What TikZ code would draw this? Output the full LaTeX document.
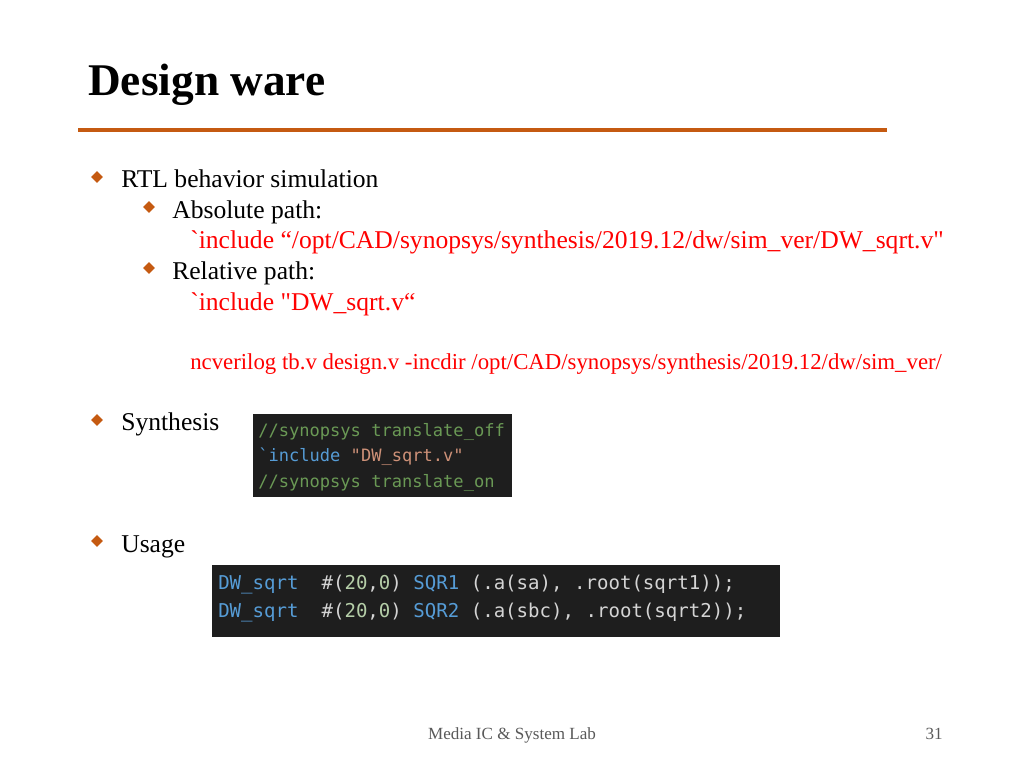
\documentclass[tikz,border=0pt]{standalone}
\usepackage{fontspec}
\setmainfont{Liberation Serif}[Ligatures=TeXOff]
\newfontfamily\codefont{DejaVu Sans Mono}[Ligatures=TeXOff]
\usetikzlibrary{shapes.geometric,positioning}

\definecolor{accent}{HTML}{C55A11}
\definecolor{pathred}{HTML}{FF0000}
\definecolor{codebg}{HTML}{1E1E1E}
\definecolor{cmt}{HTML}{6A9955}
\definecolor{kw}{HTML}{569CD6}
\definecolor{str}{HTML}{CE9178}
\definecolor{num}{HTML}{B5CEA8}
\definecolor{plain}{HTML}{D4D4D4}
\definecolor{footgrey}{HTML}{595959}

\tikzset{
  txt/.style={anchor=base west,inner sep=0pt,font=\fontsize{19.2}{22}\selectfont},
  redtxt/.style={txt,text=pathred},
  bulletmark/.style={diamond,fill=accent,inner sep=0pt,minimum size=9pt},
  codeline/.style={anchor=base west,inner sep=0pt},
}

\begin{document}
\begin{tikzpicture}[x=0.75pt,y=-0.75pt]
  \useasboundingbox (0,0) rectangle (1024,768);

  % title
  \node[anchor=base west,inner sep=0pt,font=\fontsize{34}{40}\selectfont\bfseries] (title) at (88,95) {Design ware};
  \draw[accent,line width=2.4pt] (78,130) -- (887,130);

  % RTL simulation
  \node[bulletmark] (b1) at (97,177) {};
  \node[txt] (rtl) at (121,187) {RTL behavior simulation};
  \node[bulletmark] (b2) at (149,207) {};
  \node[txt] (abs) at (172,218) {Absolute path:};
  \node[redtxt] (absinc) at (190,248) {\char"60 include “/opt/CAD/synopsys/synthesis/2019.12/dw/sim\_ver/DW\_sqrt.v"};
  \node[bulletmark] (b3) at (149,268) {};
  \node[txt] (rel) at (172,279) {Relative path:};
  \node[redtxt] (relinc) at (190,310) {\char"60 include "DW\_sqrt.v“};
  \node[redtxt,font=\fontsize{17.1}{20}\selectfont] (ncv) at (190,369) {ncverilog tb.v design.v -incdir /opt/CAD/synopsys/synthesis/2019.12/dw/sim\_ver/};

  % synthesis
  \node[bulletmark] (b4) at (97,420) {};
  \node[txt] (syn) at (121,430) {Synthesis};
  \fill[codebg] (253,414) rectangle (512,497);
  \begin{scope}[font=\codefont\fontsize{12.8}{15}\selectfont]
    \node[codeline,text=cmt] (s1) at (258,436) {//synopsys translate\_off};
    \node[codeline] (s2) at (258,461) {\textcolor{kw}{\char"60 include} \textcolor{str}{"DW\_sqrt.v"}};
    \node[codeline,text=cmt] (s3) at (258,487) {//synopsys translate\_on};
  \end{scope}

  % usage
  \node[bulletmark] (b5) at (97,541) {};
  \node[txt] (use) at (121,552) {Usage};
  \fill[codebg] (212,565) rectangle (780,637);
  \begin{scope}[font=\codefont\fontsize{14.3}{17}\selectfont]
    \node[codeline,text=plain] (u1) at (218,589) {\textcolor{kw}{DW\_sqrt}\ \ \#(\textcolor{num}{20},\textcolor{num}{0}) \textcolor{kw}{SQR1} (.a(sa), .root(sqrt1));};
    \node[codeline,text=plain] (u2) at (218,617) {\textcolor{kw}{DW\_sqrt}\ \ \#(\textcolor{num}{20},\textcolor{num}{0}) \textcolor{kw}{SQR2} (.a(sbc), .root(sqrt2));};
  \end{scope}

  % footer
  \node[anchor=base,inner sep=0pt,text=footgrey,font=\fontsize{12.8}{15}\selectfont] (foot) at (512,739) {Media IC \& System Lab};
  \node[anchor=base east,inner sep=0pt,text=footgrey,font=\fontsize{12.8}{15}\selectfont] (page) at (943,739) {31};
\end{tikzpicture}
\end{document}
